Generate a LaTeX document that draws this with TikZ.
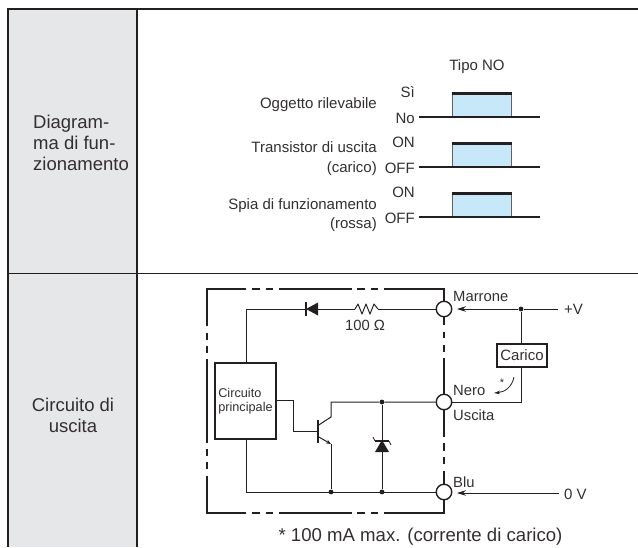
\documentclass[tikz,border=0pt]{standalone}
\usepackage{fontspec}
\setmainfont{Liberation Sans}
\usetikzlibrary{arrows.meta}
\definecolor{ink}{HTML}{231F20}
\definecolor{txt}{HTML}{332F30}
\definecolor{cellgray}{HTML}{E6E7E8}
\definecolor{pulse}{HTML}{C7E8F9}
\tikzset{
  rule/.style={draw=ink,line width=1.5pt},
  frame/.style={draw=ink,line width=2.3pt},
  wire/.style={draw=ink,line width=1pt},
  sig/.style={draw=ink,line width=1.2pt},
  arrowwire/.style={wire,-{Stealth[length=9pt,width=5.5pt]}},
  dotj/.style={circle,fill=ink,inner sep=0pt,minimum size=4.8pt},
  term/.style={circle,draw=ink,line width=1.4pt,fill=white,inner sep=0pt,minimum size=15.5pt},
  lab/.style={inner sep=0pt,text=txt,text height=10.8pt,text depth=0pt,font=\fontsize{15}{18}\selectfont},
  small/.style={inner sep=0pt,text=txt,text height=10.7pt,text depth=0pt,font=\fontsize{14.8}{18}\selectfont},
  cell/.style={inner sep=0pt,text=txt,font=\fontsize{18.5}{21.3}\selectfont},
}
\begin{document}
\begin{tikzpicture}[x=1pt,y=-1pt]
\useasboundingbox (0,0) rectangle (638,547);
% table
\fill[cellgray] (8,9) rectangle (137,547);
\draw[rule] (638,9) -- (8,9) -- (8,547);
\draw[rule] (137,9) -- (137,547);
\draw[rule,line width=1pt] (8,273) -- (638,273);
\node[cell,align=left,anchor=west] (c1) at (33,143) {Diagram-\\ma di fun-\\zionamento};
\node[cell,align=center] (c2) at (73,415.5) {Circuito di\\uscita};
% timing
\node[lab] (tipo) at (477,65) {Tipo NO};
\foreach \n/\b/\hi/\lo in {a/117/Sì/No,b/167/ON/OFF,c/217/ON/OFF}{
  \coordinate (\n l) at (419,\b);
  \coordinate (\n r) at (540,\b);
  \fill[pulse] (452,\b-24) rectangle (511,\b);
  \draw[draw=ink!70,line width=1pt] (452,\b) -- (452,\b-24) (511,\b-24) -- (511,\b);
  \fill[ink] (451.5,\b-25) rectangle (511.5,\b-22);
  \draw[sig] (\n l) -- (\n r);
  \node[lab,anchor=east] (\n hi) at (415,\b-24.5) {\hi};
  \node[lab,anchor=east] (\n lo) at (415,\b+1) {\lo};
}
\node[lab,anchor=east] (o1) at (377,103) {Oggetto rilevabile};
\node[lab,anchor=east] (o2) at (377,147) {Transistor di uscita};
\node[lab,anchor=east] (o3) at (377,167) {(carico)};
\node[lab,anchor=east] (o4) at (377,204) {Spia di funzionamento};
\node[lab,anchor=east] (o5) at (377,223) {(rossa)};
% outer dashed box
\draw[frame] (246,289) -- (207,289) -- (207,326);
\draw[frame] (252,289) -- (260,289) (266,289) -- (273,289) (279,289) -- (352,289);
\draw[frame] (357,289) -- (365,289) (371,289) -- (378,289);
\draw[frame] (384,289) -- (444,289) -- (444,301);
\draw[frame] (207,333) -- (207,340) (207,346) -- (207,353) (207,359) -- (207,443);
\draw[frame] (207,449) -- (207,456) (207,462) -- (207,469);
\draw[frame] (207,476) -- (207,513) -- (246,513);
\draw[frame] (252,513) -- (260,513) (266,513) -- (273,513) (279,513) -- (352,513);
\draw[frame] (357,513) -- (365,513) (371,513) -- (378,513);
\draw[frame] (384,513) -- (444,513) -- (444,500);
\draw[frame] (444,317) -- (444,325) (444,332) -- (444,338) (444,345) -- (444,352) (444,358) -- (444,394);
\draw[frame] (444,410) -- (444,437) (444,443) -- (444,451) (444,457) -- (444,464) (444,471) -- (444,484);
% terminals
\node[term] (tm) at (444,309) {};
\node[term] (tn) at (444,402) {};
\node[term] (tb) at (444,492) {};
% main circuit box
\node[draw=ink,line width=2.2pt,minimum width=61pt,minimum height=76pt,inner sep=0pt,align=left,font=\fontsize{12.7}{14.5}\selectfont,text=txt] (main) at (245.5,401) {Circuito\\principale};
\coordinate (tl) at (246,309);
\coordinate (bl) at (246,492);
% diode + resistor
\coordinate (da) at (318,309);
\coordinate (dk) at (306,309);
\coordinate (ra) at (355,309);
\coordinate (rb) at (378,309);
\draw[wire] (main.north -| tl) -- (tl) -- (dk);
\draw[wire] (da) -- (ra);
\path[fill=ink] (318,302.5) -- (318,315.5) -- (dk) -- cycle;
\draw[ink,line width=1.6pt] (306,302) -- (306,316);
\draw[wire,line join=round] (ra) -- (358,304) -- (362,314) -- (366,304) -- (370,314) -- (374,304) -- (rb);
\draw[wire] (rb) -- (tm);
\node[small] (ohm) at (365,325) {100 Ω};
% lower wire
\draw[wire] (main.south -| bl) -- (bl) -- (tb);
% transistor
\coordinate (tbase) at (318,431);
\coordinate (c1p) at (318,425.5);
\coordinate (c2p) at (331,417);
\coordinate (ctop) at (331,402);
\coordinate (e1p) at (318,436.5);
\coordinate (e2p) at (331,444);
\node[dotj] (j1) at (382,402) {};
\node[dotj] (j2) at (331,492) {};
\node[dotj] (j3) at (382,492) {};
\draw[wire] (main.east |- 0,400) -- (293,400) -- (293,431) -- (tbase);
\draw[ink,line width=1.8pt] (318,419.5) -- (318,443);
\draw[wire] (c1p) -- (c2p) -- (ctop) -- (j1) -- (tn);
\draw[wire,-{Stealth[length=5pt,width=4pt]}] (e1p) -- (e2p);
\draw[wire] (e2p) -- (j2);
% zener
\coordinate (zk) at (382,440);
\coordinate (za) at (382,452);
\draw[wire] (j1) -- (zk);
\draw[wire] (za) -- (j3);
\fill[ink] (zk) -- (389,452) -- (375,452) -- cycle;
\draw[ink,line width=1.3pt] (375,441) -- (389,441);
\draw[ink,line width=.7pt] (375,441) -- (373,437) (389,441) -- (391,445);
% external
\coordinate (vp) at (558,309);
\coordinate (v0) at (559,493);
\coordinate (corner) at (521,402);
\node[dotj] (j4) at (521,309) {};
\node[draw=ink,line width=1.6pt,minimum width=50pt,minimum height=23pt,inner sep=0pt,text=txt,font=\fontsize{15}{18}\selectfont] (load) at (522,355.5) {Carico};
\draw[wire] (vp) -- (j4);
\draw[arrowwire] (j4) -- (457,309);
\draw[arrowwire] (v0) -- (457,493);
\draw[wire] (j4) -- (load.north -| j4);
\draw[wire] (load.south -| j4) -- (corner) -- (tn);
\node[lab,anchor=west] (plusv) at (564,309.5) {+V};
\node[lab,anchor=west] (zerov) at (564,494) {0 V};
\node[small,anchor=west] (mar) at (453,296) {Marrone};
\node[small,anchor=west] (ner) at (453,390) {Nero};
\node[small,anchor=west] (usc) at (453,415) {Uscita};
\node[small,anchor=west] (blu) at (453,482) {Blu};
\coordinate (ca) at (514,377);
\coordinate (cb) at (494,393);
\draw[ink,line width=.8pt,-{Stealth[length=6pt,width=3.5pt]}] (ca) .. controls (512,387) and (505,392) .. (cb);
\node[inner sep=0pt,text=txt,font=\fontsize{11}{11}\selectfont] (star) at (502,383) {*};
\node[inner sep=0pt,text=txt,text height=13.4pt,text depth=0pt,font=\fontsize{18.6}{22}\selectfont] (foot) at (420.5,535) {* 100 mA max. (corrente di carico)};
\end{tikzpicture}
\end{document}
